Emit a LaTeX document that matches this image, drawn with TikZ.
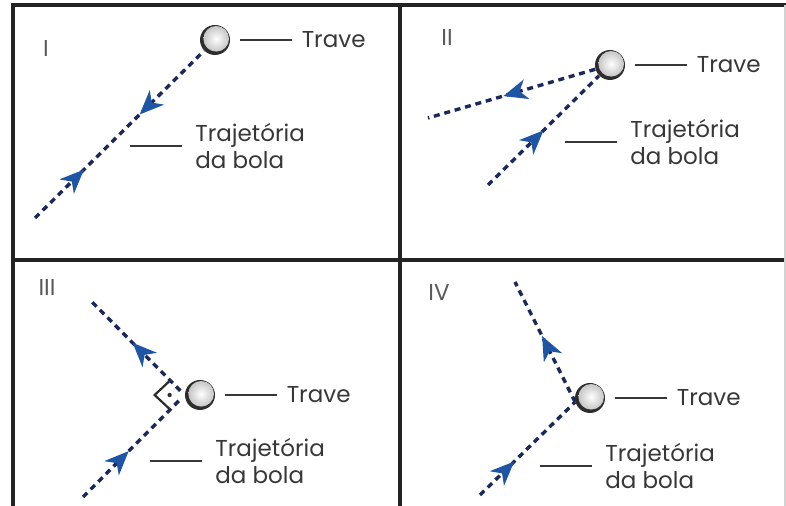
\documentclass[tikz,border=0pt]{standalone}
\usepackage{fontspec}
\setmainfont{Poppins}
\usetikzlibrary{positioning, arrows.meta, decorations.markings, calc}

\begin{document}
\begin{tikzpicture}[x=0.5pt, y=-0.5pt,
  traj/.style={trajblue, line width=1.7pt, dash pattern=on 3pt off 2.4pt},
  fwdarrow/.style={postaction={decorate, decoration={markings,
      mark=at position #1 with {\arrow{Stealth[length=12pt, width=10pt, inset=3.5pt, color=arrowblue]}}}}},
  backarrow/.style={postaction={decorate, decoration={markings,
      mark=at position #1 with {\arrowreversed{Stealth[length=12pt, width=10pt, inset=3.5pt, color=arrowblue]}}}}},
  post/.style={circle, minimum size=15pt, inner sep=0pt, fill=rimgray},
  postface/.style={circle, minimum size=12.8pt, inner sep=0pt, shade, inner color=white, outer color=gray!45},
  leader/.style={textgray, line width=1.2pt},
  travelabel/.style={text=textgray, inner sep=4.5pt, font=\fontsize{11.5}{13.5}\selectfont},
  pathlabel/.style={travelabel, align=left, inner sep=6.5pt},
  numlabel/.style={text=numgray, inner sep=0pt, font=\fontsize{11.5}{13.5}\selectfont}
]

% === Colors ===
\definecolor{trajblue}{RGB}{28,40,90}
\definecolor{arrowblue}{RGB}{30,85,165}
\definecolor{rimgray}{RGB}{45,45,45}
\definecolor{textgray}{RGB}{55,55,55}
\definecolor{numgray}{RGB}{90,90,90}
\definecolor{framegray}{RGB}{35,35,35}

\useasboundingbox (0,0) rectangle (786,506);

% === Frame (four panels) ===
\draw[framegray, line width=1.6pt] (13,506) -- (13,5) -- (786,5);
\draw[framegray, line width=1.6pt] (400,5) -- (400,506);
\draw[framegray, line width=1.6pt] (13,260) -- (786,260);
\draw[gray!35, line width=0.6pt] (785,5) -- (785,506);

% === Panel numbers ===
\foreach \n/\x/\y in {I/46/48, II/447/37, III/47/287, IV/439/292}{
  \node[numlabel] (num\n) at (\x,\y) {\n};
}

% === Posts with their labels ===
\foreach \n/\x/\y in {I/215/40, II/610/65, III/200/395, IV/590/398}{
  \node[post] (post\n) at (\x,\y) {};
  \node[postface] at ([xshift=0.6pt, yshift=0.6pt]post\n.center) {};
  \node[travelabel, right=31pt of post\n] (trave\n) {Trave};
  \draw[leader] ([xshift=5pt]post\n.east) -- (trave\n);
}

% === Ball paths ===
% I: the ball comes back along the same line
\coordinate (startI) at (35,218);
\draw[traj, fwdarrow=0.29, backarrow=0.62] (startI) -- (postI);

% II
\coordinate (inII) at (488,185);
\coordinate (outII) at (428,118);
\draw[traj, fwdarrow=0.5] (inII) -- (postII);
\draw[traj, fwdarrow=0.55] (postII) -- (outII);

% III: right angle at the post
\coordinate (hitIII) at (postIII.west);
\coordinate (inIII) at (83,497);
\coordinate (outIII) at (90,300);
\draw[traj, fwdarrow=0.45, shorten >=3pt] (inIII) -- (hitIII);
\draw[traj, fwdarrow=0.55, shorten <=3pt] (hitIII) -- (outIII);
\draw[rimgray, line width=1.1pt] ($(hitIII)+(-15,-14)$) -- ++(-15,14) -- ++(15,14);
\fill[rimgray] ($(hitIII)+(-15,0)$) circle (1.1pt);

% IV
\coordinate (hitIV) at (postIV.195);
\coordinate (inIV) at (480,495);
\coordinate (outIV) at (515,282);
\draw[traj, fwdarrow=0.36] (inIV) -- (hitIV);
\draw[traj, fwdarrow=0.55] (hitIV) -- (outIV);

% === Path labels ===
\foreach \n/\x/\y in {I/130/146, II/565/142, III/150/461, IV/540/466}{
  \coordinate (tick\n) at (\x,\y);
  \node[pathlabel, right=26pt of tick\n] (trajlabel\n) {Trajetória\\da bola};
  \draw[leader] (tick\n) -- (trajlabel\n);
}

\end{tikzpicture}
\end{document}
